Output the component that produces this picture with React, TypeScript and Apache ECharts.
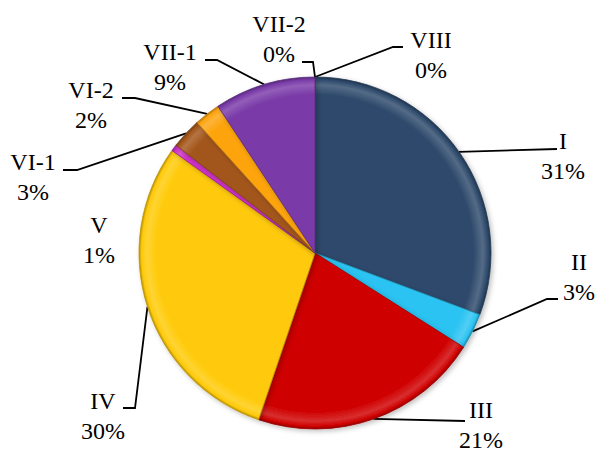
import React, { useEffect, useRef } from "react";
import * as echarts from "echarts";

const categories = ["I", "II", "III", "IV", "V", "VI-1", "VI-2", "VII-1", "VII-2", "VIII"];
const values = [30.7, 3.3, 21.2, 29.7, 0.6, 2.8, 2.4, 9.3, 0, 0];
const colors = ["#2E4A6C", "#2BC3F2", "#CF0000", "#FFCA08", "#D030C8", "#A3561A", "#FDA40F", "#7A3BA8", "#8FB0D8", "#B0B0B0"];

const CX = 315;
const CY = 253;
const R = 176;
const FONT = "Liberation Serif";

// label block centres and leader-line elbow / end points (layout only)
const labelLayouts: { x: number; y: number; anchor?: number; line: number[][]; noLine?: boolean }[] = [
  { x: 563, y: 156, anchor: 54.9, line: [[557, 149], [557, 149]] },
  { x: 579, y: 277, line: [[547, 299], [558, 299]] },
  { x: 481, y: 425, line: [[465, 421], [465, 421]] },
  { x: 103, y: 416, line: [[135, 408], [123, 408]] },
  { x: 99, y: 240, line: [], noLine: true },
  { x: 33, y: 177, line: [[77, 170], [63, 170]] },
  { x: 91, y: 105, line: [[135, 98], [122, 98]] },
  { x: 170, y: 67, line: [[217, 60], [205, 60]] },
  { x: 279, y: 39, anchor: 0, line: [[313, 62], [302, 62]] },
  { x: 431, y: 55, anchor: 0, line: [[393, 47], [403, 47]] },
];

function adjust(hex: string, amt: number): string {
  const n = parseInt(hex.slice(1), 16);
  let r = (n >> 16) & 255, g = (n >> 8) & 255, b = n & 255;
  const f = (c: number) => {
    const v = amt >= 0 ? c + (255 - c) * amt : c * (1 + amt);
    return Math.max(0, Math.min(255, Math.round(v)));
  };
  r = f(r); g = f(g); b = f(b);
  return "#" + ((1 << 24) + (r << 16) + (g << 8) + b).toString(16).slice(1);
}

function fillFor(c: string) {
  return {
    type: "radial",
    x: CX,
    y: CY,
    r: R,
    global: true,
    colorStops: [
      { offset: 0, color: c },
      { offset: 0.9, color: c },
      { offset: 0.955, color: adjust(c, 0.18) },
      { offset: 0.985, color: c },
      { offset: 1, color: adjust(c, -0.3) },
    ],
  };
}

export default function App() {
  const ref = useRef<HTMLDivElement>(null);
  useEffect(() => {
    if (!ref.current) return;
    const chart = echarts.init(ref.current, null, { renderer: "svg" });
    const data = categories.map((name, i) => ({
      name,
      value: values[i],
      itemStyle: { color: fillFor(colors[i]) as any, borderColor: adjust(colors[i], -0.25), borderWidth: 0.8 },
      labelLine: { show: !labelLayouts[i].noLine },
    }));
    chart.setOption({
      animation: false,
      backgroundColor: "#ffffff",
      textStyle: { fontFamily: FONT },
      series: [
        {
          type: "pie",
          center: [CX, CY],
          radius: R,
          startAngle: 90,
          clockwise: true,
          percentPrecision: 0,
          avoidLabelOverlap: false,
          silent: true,
          emphasis: { disabled: true },
          itemStyle: {
            shadowBlur: 5,
            shadowOffsetX: 2,
            shadowOffsetY: 2,
            shadowColor: "rgba(0,0,0,0.25)",
          },
          label: {
            show: true,
            position: "outside",
            formatter: "{b}\n{d}%",
            fontFamily: FONT,
            fontSize: 24,
            lineHeight: 30,
            color: "#000",
            align: "center",
          },
          labelLine: {
            show: true,
            lineStyle: { color: "#000", width: 1.8 },
          },
          labelLayout: (params: any) => {
            const i = params.dataIndex;
            const L = labelLayouts[i];
            let start: number[];
            if (L.anchor != null || !params.labelLinePoints) {
              const a = ((L.anchor ?? 0) * Math.PI) / 180;
              start = [CX + R * Math.sin(a), CY - R * Math.cos(a)];
            } else {
              start = params.labelLinePoints[0];
            }
            const res: any = { x: L.x, y: L.y, align: "center", verticalAlign: "middle" };
            if (!L.noLine) res.labelLinePoints = [start, ...L.line];
            return res;
          },
          data,
        },
      ],
    });
    return () => chart.dispose();
  }, []);
  return (
    <div
      ref={ref}
      style={{ position: "fixed", left: 0, top: 0, width: 598, height: 453 }}
    />
  );
}
